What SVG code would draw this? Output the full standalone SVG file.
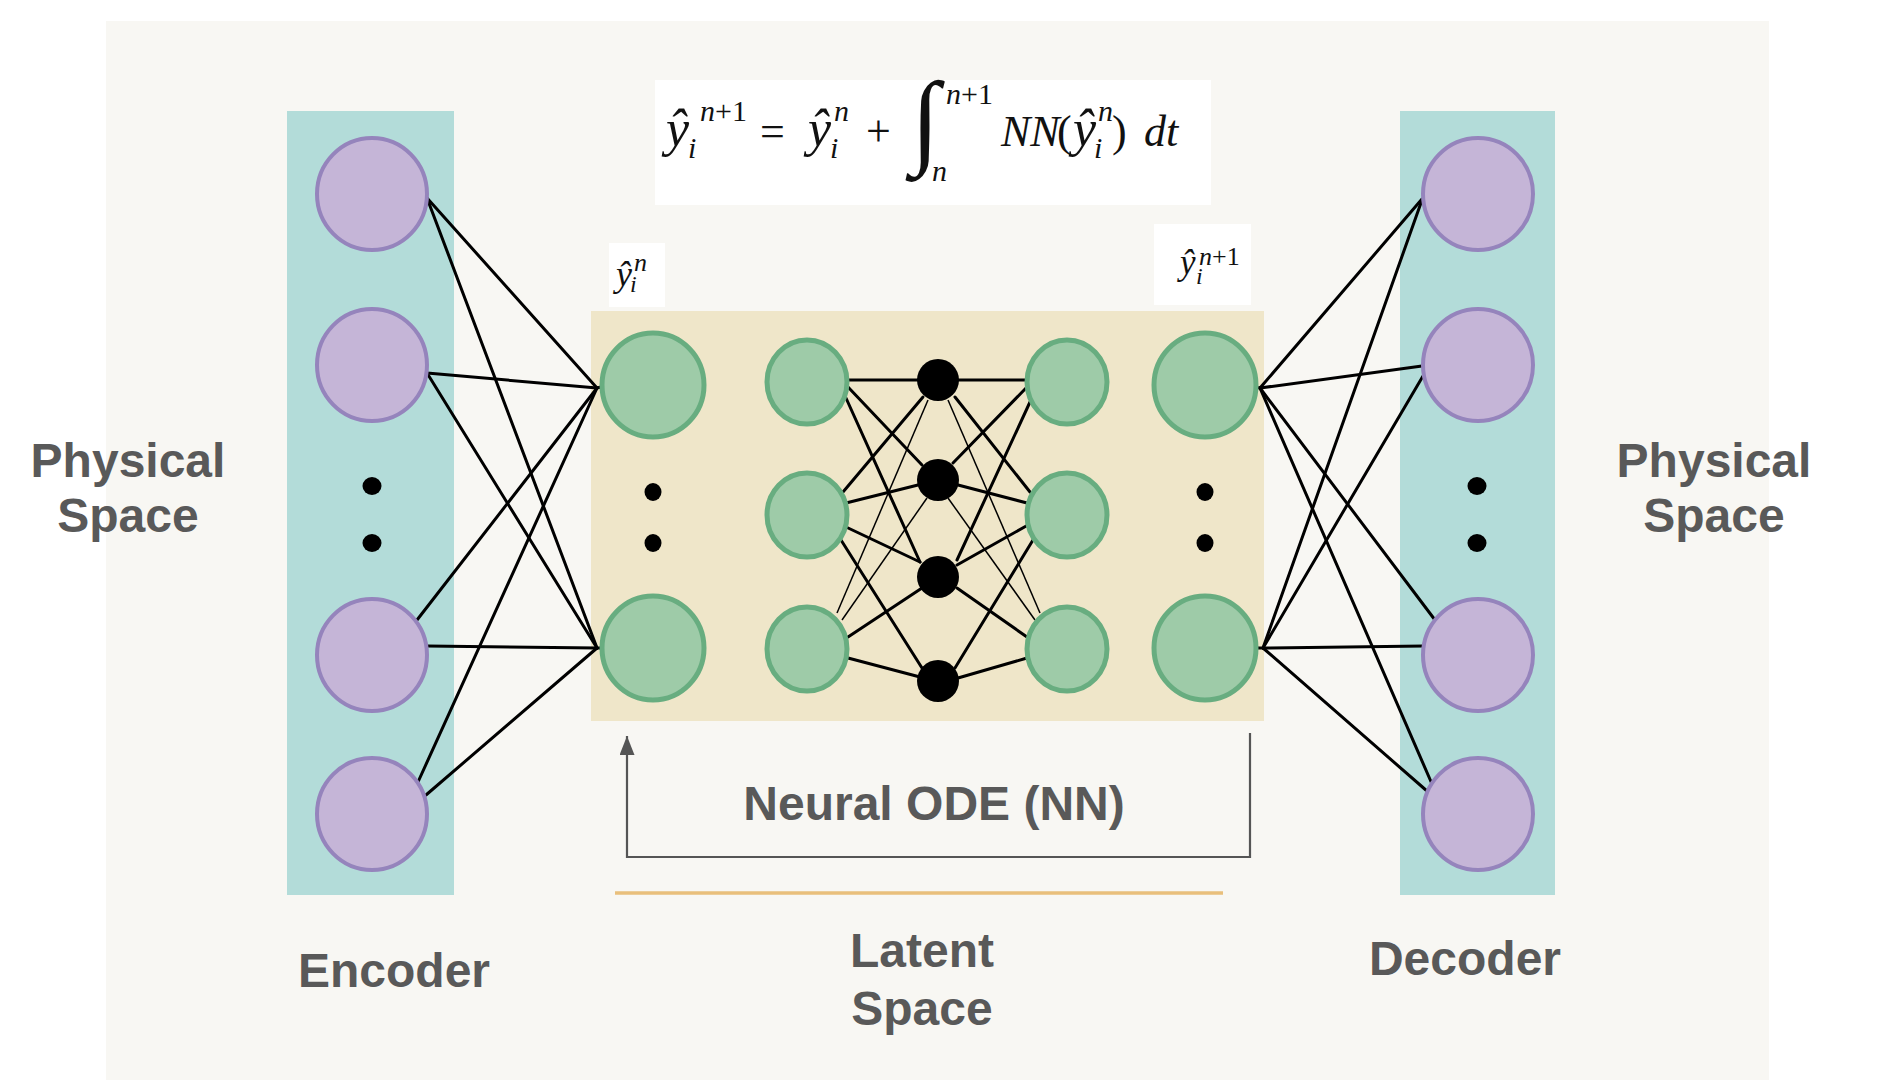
<svg xmlns="http://www.w3.org/2000/svg" width="1892" height="1080" viewBox="0 0 1892 1080">
  <defs>
    <style>
      .lbl { font-family: "Liberation Sans", Arial, sans-serif; font-weight: bold; font-size: 48px; fill: #595959; text-anchor: middle; }
      .math { font-family: "Liberation Serif", "Times New Roman", serif; fill: #111; }
      .it { font-style: italic; }
      .rm { font-style: normal; }
      .phys { fill: #c5b5d7; stroke: #9584bc; stroke-width: 4; }
      .lat { fill: #9ecba8; stroke: #68ad80; stroke-width: 5; }
      .hid { fill: #000; }
      .dot { fill: #000; }
      .edge { stroke: #000; stroke-width: 3; fill: none; stroke-linecap: round; }
      .thin { stroke: #000; stroke-width: 1.5; fill: none; }
      .loop { stroke: #555; stroke-width: 2.2; fill: none; }
    </style>
    <marker id="arrow" markerUnits="userSpaceOnUse" markerWidth="19" markerHeight="15" viewBox="0 0 19 15" refX="19" refY="7.5" orient="auto">
      <path d="M0,0 L19,7.5 L0,15 Z" fill="#555"/>
    </marker>
  </defs>

  <!-- background -->
  <rect x="0" y="0" width="1892" height="1080" fill="#ffffff"/>
  <rect x="106" y="21" width="1663" height="1059" fill="#f8f7f3"/>

  <!-- panels -->
  <rect x="287" y="111" width="167" height="784" fill="#b3dcd9"/>
  <rect x="1400" y="111" width="155" height="784" fill="#b3dcd9"/>
  <rect x="591" y="311" width="673" height="410" fill="#efe6c9"/>

  <!-- connectors -->
  <g id="connectors">
    <!-- encoder -->
    <line class="edge" x1="427" y1="198" x2="597" y2="388"/>
    <line class="edge" x1="427" y1="198" x2="597" y2="648"/>
    <line class="edge" x1="427" y1="373" x2="597" y2="388"/>
    <line class="edge" x1="427" y1="373" x2="597" y2="648"/>
    <line class="edge" x1="417" y1="620" x2="597" y2="388"/>
    <line class="edge" x1="427" y1="646" x2="597" y2="648"/>
    <line class="edge" x1="418" y1="782" x2="597" y2="388"/>
    <line class="edge" x1="426" y1="795" x2="597" y2="648"/>
    <line class="edge" x1="597" y1="388" x2="605" y2="386"/>
    <line class="edge" x1="597" y1="648" x2="605" y2="648"/>
    <!-- decoder -->
    <line class="edge" x1="1260" y1="388" x2="1422" y2="199"/>
    <line class="edge" x1="1263" y1="648" x2="1422" y2="200"/>
    <line class="edge" x1="1260" y1="388" x2="1422" y2="366"/>
    <line class="edge" x1="1263" y1="648" x2="1423" y2="376"/>
    <line class="edge" x1="1260" y1="388" x2="1435" y2="620"/>
    <line class="edge" x1="1263" y1="648" x2="1424" y2="646"/>
    <line class="edge" x1="1260" y1="388" x2="1432" y2="784"/>
    <line class="edge" x1="1263" y1="648" x2="1427" y2="791"/>
    <line class="edge" x1="1252" y1="387" x2="1260" y2="388"/>
    <line class="edge" x1="1252" y1="648" x2="1263" y2="648"/>
    <!-- inner network: input layer to hidden -->
    <line class="edge" x1="846" y1="380" x2="920" y2="380"/>
    <line class="edge" x1="848" y1="387" x2="922" y2="465"/>
    <line class="edge" x1="846" y1="398" x2="920" y2="562"/>
    <line class="edge" x1="843" y1="492" x2="923" y2="397"/>
    <line class="edge" x1="846" y1="503" x2="918" y2="485"/>
    <line class="edge" x1="846" y1="527" x2="920" y2="562"/>
    <line class="edge" x1="841" y1="540" x2="922" y2="668"/>
    <line class="thin" x1="837" y1="613" x2="928" y2="400"/>
    <line class="thin" x1="842" y1="620" x2="927" y2="498"/>
    <line class="edge" x1="848" y1="637" x2="922" y2="588"/>
    <line class="edge" x1="848" y1="658" x2="920" y2="677"/>
    <!-- hidden to output layer -->
    <line class="edge" x1="1027" y1="380" x2="956" y2="380"/>
    <line class="edge" x1="1027" y1="387" x2="953" y2="463"/>
    <line class="edge" x1="1030" y1="402" x2="957" y2="560"/>
    <line class="edge" x1="1030" y1="492" x2="955" y2="397"/>
    <line class="edge" x1="1027" y1="503" x2="958" y2="485"/>
    <line class="edge" x1="1028" y1="525" x2="957" y2="565"/>
    <line class="edge" x1="1033" y1="540" x2="955" y2="668"/>
    <line class="thin" x1="1040" y1="613" x2="948" y2="400"/>
    <line class="thin" x1="1035" y1="620" x2="948" y2="498"/>
    <line class="edge" x1="1027" y1="637" x2="957" y2="588"/>
    <line class="edge" x1="1027" y1="658" x2="958" y2="678"/>
    <!-- feedback loop -->
    <path class="loop" d="M1250,733 L1250,857 L627,857 L627,736" marker-end="url(#arrow)"/>
    <!-- latent underline -->
    <line x1="615" y1="893" x2="1223" y2="893" stroke="#e9bf7b" stroke-width="3.5"/>
  </g>

  <!-- encoder nodes -->
  <g id="encoder-nodes">
    <ellipse class="phys" cx="372" cy="194" rx="55" ry="56"/>
    <ellipse class="phys" cx="372" cy="365" rx="55" ry="56"/>
    <ellipse class="phys" cx="372" cy="655" rx="55" ry="56"/>
    <ellipse class="phys" cx="372" cy="814" rx="55" ry="56"/>
    <ellipse class="dot" cx="372" cy="486" rx="9.5" ry="9"/>
    <ellipse class="dot" cx="372" cy="543" rx="9.5" ry="9"/>
  </g>

  <!-- decoder nodes -->
  <g id="decoder-nodes">
    <ellipse class="phys" cx="1478" cy="194" rx="55" ry="56"/>
    <ellipse class="phys" cx="1478" cy="365" rx="55" ry="56"/>
    <ellipse class="phys" cx="1478" cy="655" rx="55" ry="56"/>
    <ellipse class="phys" cx="1478" cy="814" rx="55" ry="56"/>
    <ellipse class="dot" cx="1477" cy="486" rx="9.5" ry="9"/>
    <ellipse class="dot" cx="1477" cy="543" rx="9.5" ry="9"/>
  </g>

  <!-- latent nodes -->
  <g id="latent-in">
    <ellipse class="lat" cx="653" cy="385" rx="51" ry="52"/>
    <ellipse class="lat" cx="653" cy="648" rx="51" ry="52"/>
    <ellipse class="dot" cx="653" cy="492" rx="8.5" ry="9"/>
    <ellipse class="dot" cx="653" cy="543" rx="8.5" ry="9"/>
  </g>
  <g id="nn-input">
    <ellipse class="lat" cx="807" cy="382" rx="40" ry="42"/>
    <ellipse class="lat" cx="807" cy="515" rx="40" ry="42"/>
    <ellipse class="lat" cx="807" cy="649" rx="40" ry="42"/>
  </g>
  <g id="nn-hidden">
    <circle class="hid" cx="938" cy="380" r="21"/>
    <circle class="hid" cx="938" cy="480" r="21"/>
    <circle class="hid" cx="938" cy="577" r="21"/>
    <circle class="hid" cx="938" cy="681" r="21"/>
  </g>
  <g id="nn-output">
    <ellipse class="lat" cx="1067" cy="382" rx="40" ry="42"/>
    <ellipse class="lat" cx="1067" cy="515" rx="40" ry="42"/>
    <ellipse class="lat" cx="1067" cy="649" rx="40" ry="42"/>
  </g>
  <g id="latent-out">
    <ellipse class="lat" cx="1205" cy="385" rx="51" ry="52"/>
    <ellipse class="lat" cx="1205" cy="648" rx="51" ry="52"/>
    <ellipse class="dot" cx="1205" cy="492" rx="8.5" ry="9"/>
    <ellipse class="dot" cx="1205" cy="543" rx="8.5" ry="9"/>
  </g>

  <!-- formula -->
  <g id="formula">
    <rect x="655" y="80" width="556" height="125" fill="#ffffff"/>
    <text class="math it"><tspan x="666" y="146" font-size="52">ŷ</tspan><tspan x="688" y="158" font-size="30">i</tspan><tspan x="700" y="121" font-size="30">n</tspan><tspan class="rm" font-size="30">+1</tspan><tspan class="rm" x="760" y="146" font-size="44">=</tspan><tspan x="808" y="146" font-size="52">ŷ</tspan><tspan x="830" y="158" font-size="30">i</tspan><tspan x="834" y="121" font-size="30">n</tspan><tspan class="rm" x="866" y="146" font-size="44">+</tspan><tspan class="rm" x="911" y="154" font-size="104">∫</tspan><tspan x="946" y="104" font-size="30">n</tspan><tspan class="rm" font-size="30">+1</tspan><tspan x="932" y="181" font-size="30">n</tspan><tspan x="1001" y="146" font-size="44">NN</tspan><tspan class="rm" x="1057" y="146" font-size="44">(</tspan><tspan x="1073" y="146" font-size="52">ŷ</tspan><tspan x="1094" y="158" font-size="30">i</tspan><tspan x="1098" y="121" font-size="30">n</tspan><tspan class="rm" x="1112" y="146" font-size="44">)</tspan><tspan x="1144" y="146" font-size="44">dt</tspan></text>
  </g>

  <!-- state labels -->
  <g id="label-yn">
    <rect x="609" y="243" width="56" height="64" fill="#ffffff"/>
    <text class="math it"><tspan x="616" y="286" font-size="36">ŷ</tspan><tspan x="630" y="292" font-size="24">i</tspan><tspan x="634" y="271" font-size="26">n</tspan></text>
  </g>
  <g id="label-yn1">
    <rect x="1154" y="224" width="97" height="81" fill="#ffffff"/>
    <text class="math it"><tspan x="1180" y="274" font-size="35">ŷ</tspan><tspan x="1196" y="284" font-size="24">i</tspan><tspan x="1199" y="265" font-size="26">n</tspan><tspan class="rm" font-size="26">+1</tspan></text>
  </g>

  <!-- captions -->
  <g id="captions">
    <text class="lbl" x="128" y="477">Physical</text>
    <text class="lbl" x="128" y="532">Space</text>
    <text class="lbl" x="1714" y="477">Physical</text>
    <text class="lbl" x="1714" y="532">Space</text>
    <text class="lbl" x="934" y="820">Neural ODE (NN)</text>
    <text class="lbl" x="922" y="967">Latent</text>
    <text class="lbl" x="922" y="1025">Space</text>
    <text class="lbl" x="394" y="987">Encoder</text>
    <text class="lbl" x="1465" y="975">Decoder</text>
  </g>
</svg>
